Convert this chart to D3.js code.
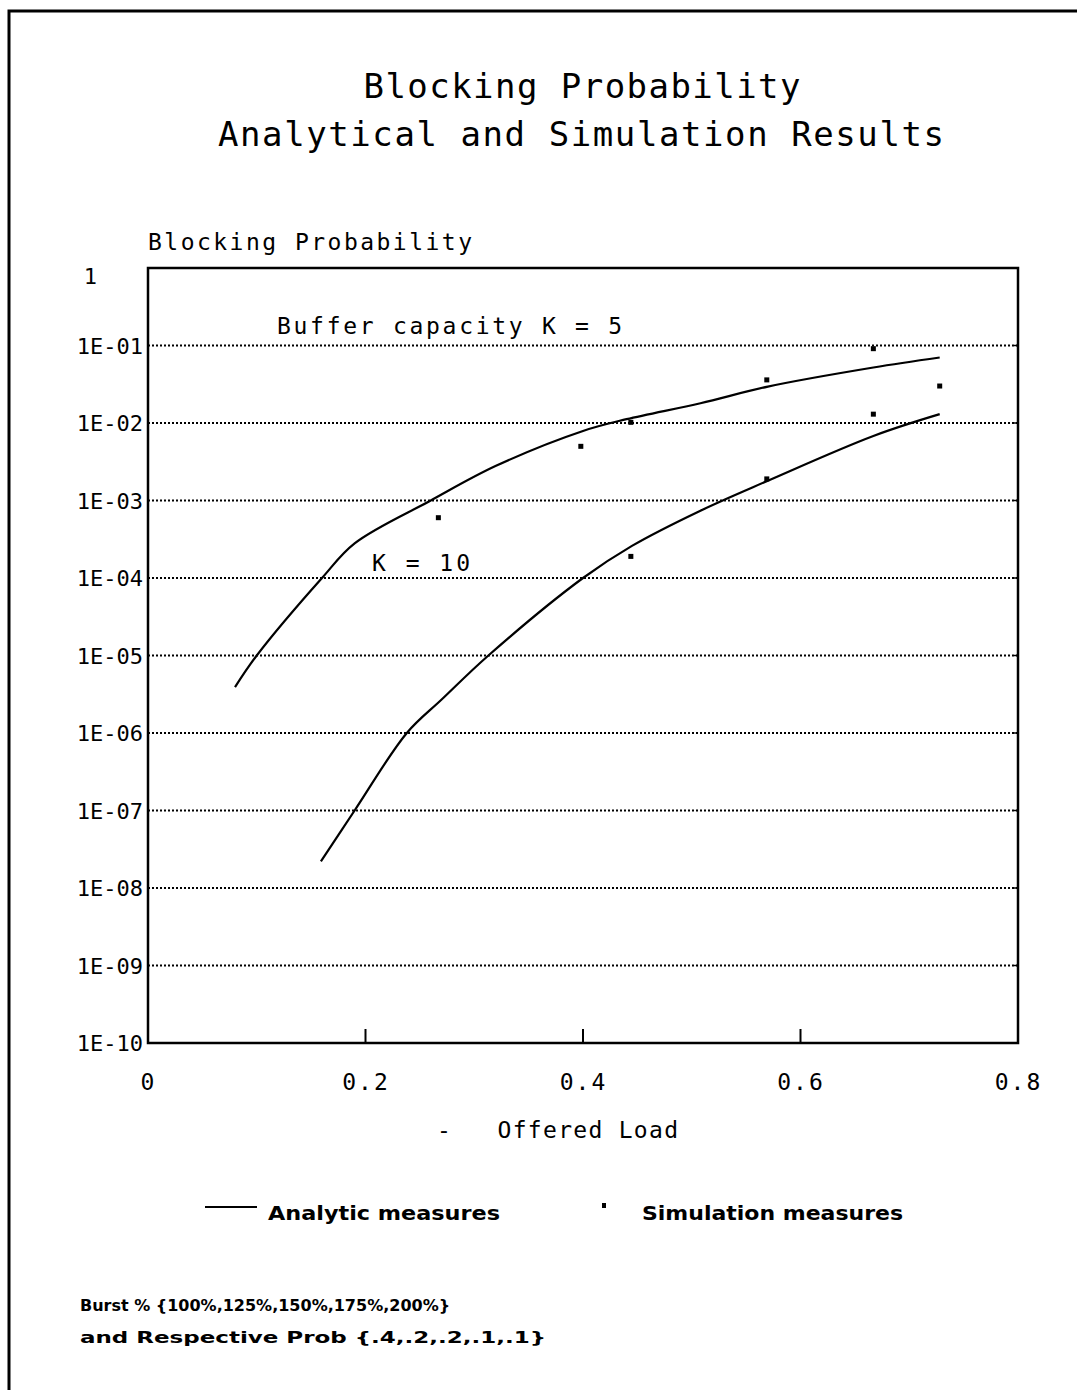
<!DOCTYPE html>
<html>
<head>
<meta charset="utf-8">
<script src="https://cdn.jsdelivr.net/npm/d3@7"></script>
<style>
  body { margin: 0; background: #fff; }
  text { font-family: "DejaVu Sans Mono", monospace; fill: #000; white-space: pre; }
</style>
</head>
<body>
<div id="chart"></div>
<script>
// datos
const yTicks = [1, 1e-1, 1e-2, 1e-3, 1e-4, 1e-5, 1e-6, 1e-7, 1e-8, 1e-9, 1e-10];
const yTickLabels = ["1", "1E-01", "1E-02", "1E-03", "1E-04", "1E-05", "1E-06", "1E-07", "1E-08", "1E-09", "1E-10"];
const xTicks = [0, 0.2, 0.4, 0.6, 0.8];
const xTickLabels = ["0", "0.2", "0.4", "0.6", "0.8"];

// curva analítica K = 5
const loadK5 = [0.08, 0.10, 0.16, 0.19, 0.26, 0.32, 0.40, 0.44, 0.508, 0.57, 0.667, 0.728];
const probK5 = [3.9e-6, 1.0e-5, 1.0e-4, 2.8e-4, 1.0e-3, 2.8e-3, 7.9e-3, 1.12e-2, 1.8e-2, 2.95e-2, 5.2e-2, 7.0e-2];
// curva analítica K = 10
const loadK10 = [0.159, 0.19, 0.238, 0.27, 0.313, 0.40, 0.445, 0.508, 0.57, 0.667, 0.728];
const probK10 = [2.2e-8, 1.0e-7, 1.0e-6, 2.7e-6, 1.0e-5, 1.0e-4, 2.6e-4, 7.4e-4, 1.8e-3, 6.8e-3, 1.3e-2];
// medidas de simulación
const simLoad = [0.267, 0.398, 0.444, 0.569, 0.667, 0.728, 0.444, 0.569, 0.667];
const simProb = [6.0e-4, 5.0e-3, 1.02e-2, 3.6e-2, 0.091, 0.030, 1.9e-4, 1.9e-3, 1.3e-2];

const width = 1077;
const height = 1390;
const marginLeft = 148;
const marginRight = 59;   // borde derecho del área
const marginTop = 268;
const plotBottom = 1043;
const sansBold = "'DejaVu Sans', sans-serif";

const svg = d3.select("#chart").append("svg")
  .attr("width", width)
  .attr("height", height)
  .attr("viewBox", [0, 0, width, height]);

// marco exterior (solo izquierda y arriba)
svg.append("path")
  .attr("d", `M9,${height} V11 H${width}`)
  .attr("fill", "none")
  .attr("stroke", "#000")
  .attr("stroke-width", 3);

// escalas
const x = d3.scaleLinear().domain([0, 0.8]).range([marginLeft, width - marginRight]);
const y = d3.scaleLog().domain([1e-10, 1]).range([plotBottom, marginTop]);

// títulos
svg.append("text").attr("x", 582).attr("y", 98).attr("text-anchor", "middle")
  .attr("font-size", 34).attr("textLength", 437).attr("lengthAdjust", "spacing")
  .text("Blocking Probability");
svg.append("text").attr("x", 581).attr("y", 146).attr("text-anchor", "middle")
  .attr("font-size", 34).attr("textLength", 726).attr("lengthAdjust", "spacing")
  .text("Analytical and Simulation Results");

// etiqueta eje Y
svg.append("text").attr("x", 148).attr("y", 250)
  .attr("font-size", 23).attr("textLength", 324).attr("lengthAdjust", "spacing")
  .text("Blocking Probability");

// líneas de rejilla punteadas
svg.append("g")
  .selectAll("line")
  .data(yTicks.slice(1, -1))
  .join("line")
  .attr("x1", x(0)).attr("x2", x(0.8))
  .attr("y1", d => y(d)).attr("y2", d => y(d))
  .attr("stroke", "#000")
  .attr("stroke-width", 2)
  .attr("stroke-dasharray", "2,2");

// eje Y
svg.append("g")
  .attr("transform", `translate(${marginLeft},0)`)
  .call(d3.axisLeft(y).tickValues(yTicks).tickFormat((d, i) => yTickLabels[i]).tickSize(0).tickPadding(5))
  .call(g => g.select(".domain").remove())
  .call(g => g.selectAll(".tick text")
    .attr("font-size", 22)
    .attr("dy", "0.35em"))
  .call(g => g.selectAll(".tick text").filter((d, i) => i === 0)
    .attr("dx", -46).attr("dy", "0.7em"));

// marcas pequeñas en el borde derecho
svg.append("g")
  .selectAll("line")
  .data(yTicks.slice(1, -1))
  .join("line")
  .attr("x1", x(0.8) - 4).attr("x2", x(0.8))
  .attr("y1", d => y(d)).attr("y2", d => y(d))
  .attr("stroke", "#000").attr("stroke-width", 1.5);

// eje X
svg.append("g")
  .attr("transform", `translate(0,${plotBottom})`)
  .call(d3.axisBottom(x).tickValues(xTicks).tickFormat((d, i) => xTickLabels[i]).tickSize(0).tickPadding(31))
  .call(g => g.select(".domain").remove())
  .call(g => g.selectAll(".tick text")
    .attr("font-size", 23)
    .attr("letter-spacing", 2));

// marcas internas del eje X
svg.append("g")
  .selectAll("line")
  .data(xTicks.slice(1, -1))
  .join("line")
  .attr("x1", d => x(d)).attr("x2", d => x(d))
  .attr("y1", plotBottom).attr("y2", plotBottom - 14)
  .attr("stroke", "#000").attr("stroke-width", 2);

// marco del área de trazado
svg.append("rect")
  .attr("x", x(0)).attr("y", y(1))
  .attr("width", x(0.8) - x(0)).attr("height", y(1e-10) - y(1))
  .attr("fill", "none")
  .attr("stroke", "#000")
  .attr("stroke-width", 2.5);

// título eje X
svg.append("text").attr("x", 437).attr("y", 1138)
  .attr("font-size", 23).attr("textLength", 241).attr("lengthAdjust", "spacing")
  .text("-   Offered Load");

// curvas analíticas
const line = d3.line()
  .x(d => x(d[0]))
  .y(d => y(d[1]))
  .curve(d3.curveCatmullRom.alpha(0.5));

[[loadK5, probK5], [loadK10, probK10]].forEach(([xs, ys]) => {
  svg.append("path")
    .attr("d", line(d3.zip(xs, ys)))
    .attr("fill", "none")
    .attr("stroke", "#000")
    .attr("stroke-width", 2.2);
});

// puntos de simulación
svg.append("g")
  .selectAll("rect")
  .data(d3.zip(simLoad, simProb))
  .join("rect")
  .attr("x", d => x(d[0]) - 2.5)
  .attr("y", d => y(d[1]) - 2.5)
  .attr("width", 5)
  .attr("height", 5)
  .attr("fill", "#000");

// anotaciones de las curvas
svg.append("text").attr("x", 277).attr("y", 334)
  .attr("font-size", 23).attr("textLength", 345).attr("lengthAdjust", "spacing")
  .text("Buffer capacity K = 5");
svg.append("text").attr("x", 372).attr("y", 571)
  .attr("font-size", 23).attr("textLength", 98).attr("lengthAdjust", "spacing")
  .text("K = 10");

// leyenda
svg.append("line")
  .attr("x1", 205).attr("x2", 257).attr("y1", 1207).attr("y2", 1207)
  .attr("stroke", "#000").attr("stroke-width", 2);
svg.append("text").attr("x", 268).attr("y", 1220)
  .style("font-family", sansBold)
  .attr("font-size", 19).attr("font-weight", "bold")
  .attr("textLength", 232).attr("lengthAdjust", "spacingAndGlyphs")
  .text("Analytic measures");
svg.append("rect")
  .attr("x", 602).attr("y", 1203).attr("width", 4).attr("height", 5).attr("fill", "#000");
svg.append("text").attr("x", 642).attr("y", 1220)
  .style("font-family", sansBold)
  .attr("font-size", 19).attr("font-weight", "bold")
  .attr("textLength", 261).attr("lengthAdjust", "spacingAndGlyphs")
  .text("Simulation measures");

// nota al pie
svg.append("text").attr("x", 80).attr("y", 1311)
  .style("font-family", sansBold)
  .attr("font-size", 16).attr("font-weight", "bold")
  .text("Burst % {100%,125%,150%,175%,200%}");
svg.append("text").attr("x", 80).attr("y", 1343)
  .style("font-family", sansBold)
  .attr("font-size", 16).attr("font-weight", "bold")
  .attr("textLength", 466).attr("lengthAdjust", "spacingAndGlyphs")
  .text("and Respective Prob {.4,.2,.2,.1,.1}");
</script>
</body>
</html>
